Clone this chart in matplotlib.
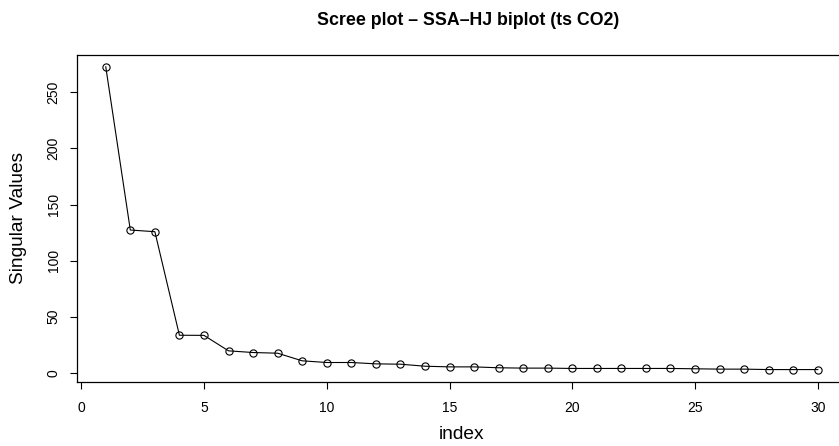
import matplotlib
matplotlib.use('Agg')
import matplotlib.pyplot as plt

# singular values
index = list(range(1, 31))
singular_values = [272.8, 127.3, 125.8, 33.5, 33.4, 19.6, 18.1, 17.5, 10.7, 9.2,
                   9.2, 8.0, 7.7, 5.9, 5.3, 5.3, 4.5, 4.2, 4.2, 3.9,
                   3.9, 3.9, 3.9, 3.9, 3.6, 3.3, 3.3, 2.9, 2.9, 2.9]
xticks = [0, 5, 10, 15, 20, 25, 30]
yticks = [0, 50, 100, 150, 200, 250]

plt.rcParams['font.family'] = ['Liberation Sans', 'DejaVu Sans']

fig = plt.figure(figsize=(8.39, 4.46), dpi=100)
ax = fig.add_axes([0.0921, 0.1442, 0.9166, 0.7332])

ax.plot(index, singular_values, color='black', lw=0.8, marker='o', ms=5.2,
        mfc='none', mec='black', mew=0.8)
ax.margins(x=0.04, y=0.04)

ax.set_xticks(xticks)
ax.set_yticks(yticks)
ax.tick_params(length=5, width=0.8, labelsize=10, pad=7)
ax.tick_params(axis='x', pad=9)
for lab in ax.get_yticklabels():
    lab.set_rotation(90)
    lab.set_va('center')
for s in ax.spines.values():
    s.set_linewidth(0.9)
ax.spines['right'].set_visible(False)

ax.set_xlabel('index', fontsize=13.8)
ax.xaxis.set_label_coords(0.5, -0.163)
ax.xaxis.label.set_va('center')
ax.set_ylabel('Singular Values', fontsize=13.8)
ax.yaxis.set_label_coords(-0.077, 0.5)
ax.yaxis.label.set_va('center')

fig.text(0.558, 0.955, 'Scree plot \u2013 SSA\u2013HJ biplot (ts CO2)',
         ha='center', va='center', fontsize=12.8, fontweight='bold')

fig.savefig('out.png', dpi=100)
